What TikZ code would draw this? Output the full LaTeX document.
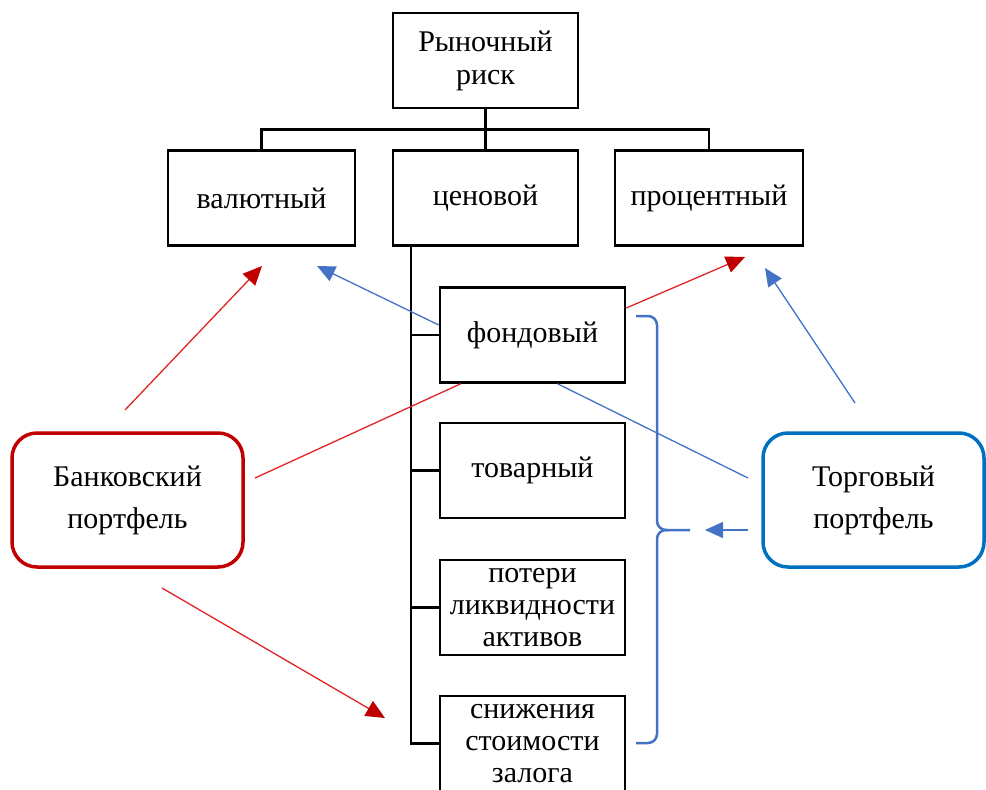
\documentclass[tikz,border=0pt]{standalone}
\usepackage{fontspec}
\setmainfont{Liberation Serif}
\usetikzlibrary{arrows.meta, calc}
\definecolor{bankred}{HTML}{C00000}
\definecolor{linered}{HTML}{E02424}
\definecolor{lineblue}{HTML}{4472C4}
\definecolor{tradeblue}{HTML}{0070C0}
\begin{document}
\begin{tikzpicture}[x=1pt, y=-1pt,
  box/.style={draw, line width=2.5pt, minimum width=185pt, minimum height=95pt, inner sep=0pt, align=center, font=\fontsize{30}{33}\selectfont},
  portf/.style={draw, line width=3.5pt, rounded corners=25pt, minimum height=134pt, align=center, font=\fontsize{30}{42}\selectfont},
  tree/.style={line width=2.5pt},
  redarr/.style={linered, line width=1.3pt, -{Triangle[length=19pt,width=17pt,color=bankred,fill=bankred]}},
  bluearr/.style={lineblue, line width=1.3pt, -{Triangle[length=18pt,width=16pt]}},
  brace/.style={lineblue, line width=2.5pt, rounded corners=9pt}]
\useasboundingbox (0,0) rectangle (986,790);
\node[box] (top) at (485.5,60.5) {Рыночный\\риск};
\node[box, minimum width=187pt] (val) at (261.5,198) {валютный};
\node[box] (cen) at (485.5,198) {ценовой};
\node[box, minimum width=188pt] (proc) at (709,198) {процентный};
\node[box] (fond) at (532.5,335) {фондовый};
\node[box] (tov) at (532.5,470.5) {товарный};
\node[box, font=\fontsize{30}{32}\selectfont] (pot) at (532.5,607.5) {потери\\ликвидности\\активов};
\node[box, font=\fontsize{30}{32}\selectfont] (sniz) at (532.5,743.5) {снижения\\стоимости\\залога};
\node[portf, bankred, text=black, minimum width=231pt] (bank) at (127.5,500) {Банковский\\портфель};
\node[portf, tradeblue, text=black, minimum width=221pt] (trade) at (873.5,500) {Торговый\\портфель};
\draw[tree] (top.south) -- ++(0,20) coordinate (bus);
\draw[tree] (val.north) |- (bus) -| (proc.north);
\draw[tree] (bus) -- (cen.north);
\coordinate (trunk) at ($(cen.south west)+(19,0)$);
\draw[tree] (trunk) |- (sniz.west);
\foreach \n in {fond,tov,pot} \draw[tree] (trunk |- \n.west) -- (\n.west);
\coordinate (bup) at (125,410);
\coordinate (bmid) at (255,478);
\coordinate (bdown) at (162,588);
\coordinate (tup) at (855,403);
\coordinate (tmid) at (748,478);
\coordinate (tside) at (748,530);
\coordinate (valin) at (262,266);
\coordinate (valfond) at (317,266);
\coordinate (procin) at (745,257);
\coordinate (proctr) at (765,268);
\coordinate (snizin) at (385,718);
\coordinate (bracetip) at (705,530);
\draw[redarr] (bup) -- (valin);
\draw[bluearr] ($(fond.west)+(0,-10)$) -- (valfond);
\draw[redarr] ($(fond.east)+(0,-27)$) -- (procin);
\draw[bluearr] (tup) -- (proctr);
\draw[linered, line width=1.3pt] (bmid) -- ($(fond.south west)+(22,0)$);
\draw[lineblue, line width=1.3pt] (tmid) -- ($(fond.south)+(25,0)$);
\draw[redarr] (bdown) -- (snizin);
\draw[bluearr] (tside) -- (bracetip);
\draw[brace] (636,316) -| (657,530) -- (690,530);
\draw[brace] (668,530) -| (657,743) -- (636,743);
\end{tikzpicture}
\end{document}
